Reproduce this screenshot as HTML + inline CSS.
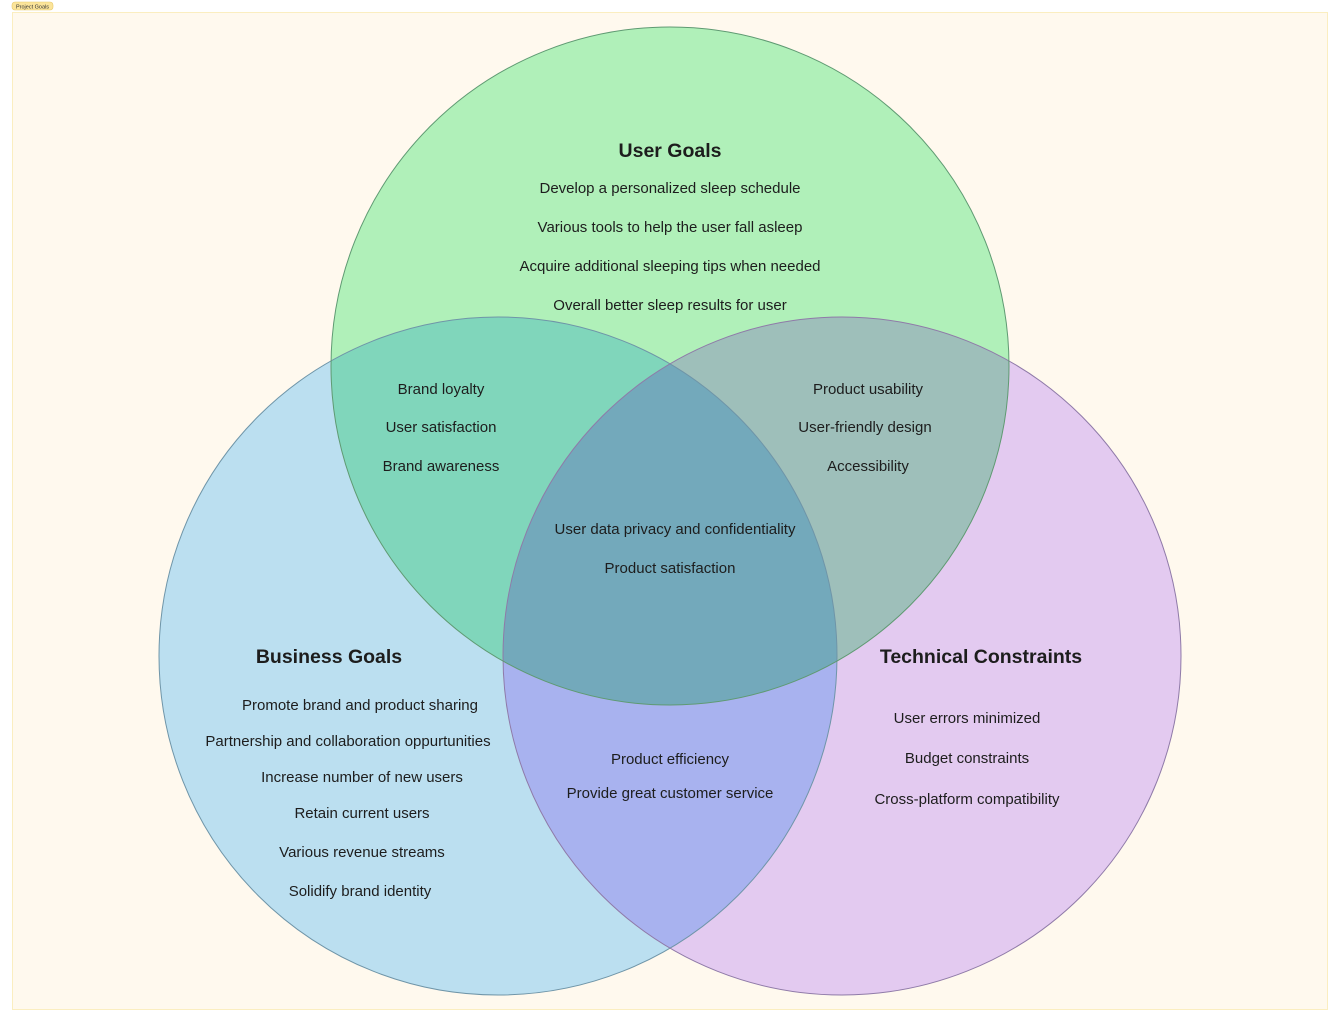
<!DOCTYPE html>
<html><head><meta charset="utf-8"><style>
html,body{margin:0;padding:0;background:#fff;}
svg{display:block;}
text{font-family:"Liberation Sans",sans-serif;}
</style></head><body>
<svg width="1341" height="1023" viewBox="0 0 1341 1023" xmlns="http://www.w3.org/2000/svg">
<defs>
<clipPath id="cG"><circle cx="670" cy="366" r="339"/></clipPath>
<clipPath id="cB"><circle cx="498" cy="656" r="339"/></clipPath>
<clipPath id="cP"><circle cx="842" cy="656" r="339"/></clipPath>
</defs>
<rect x="0" y="0" width="1341" height="1023" fill="#ffffff"/>
<rect x="12.5" y="12.5" width="1315" height="997" fill="#fff9ee" stroke="#fbeec0" stroke-width="1"/>
<rect x="12" y="2" width="41" height="8" rx="3" fill="#fbe49a" stroke="#e8c96a" stroke-width="0.6"/>
<text x="32.5" y="8.3" font-size="5.5" text-anchor="middle" fill="#333">Project Goals</text>

<circle cx="498" cy="656" r="339" fill="#bbdff0"/>
<circle cx="842" cy="656" r="339" fill="#e3caf0"/>
<circle cx="670" cy="366" r="339" fill="#b0f0b9"/>
<g clip-path="url(#cB)"><circle cx="842" cy="656" r="339" fill="#a8b2ef"/></g>
<g clip-path="url(#cG)"><circle cx="498" cy="656" r="339" fill="#80d6bb"/><circle cx="842" cy="656" r="339" fill="#9ebfba"/></g>
<g clip-path="url(#cG)"><g clip-path="url(#cB)"><circle cx="842" cy="656" r="339" fill="#73a9bb"/></g></g>
<circle cx="498" cy="656" r="339" fill="none" stroke="#6f95a8" stroke-width="1"/>
<circle cx="842" cy="656" r="339" fill="none" stroke="#8f7aa8" stroke-width="1"/>
<circle cx="670" cy="366" r="339" fill="none" stroke="#5f9a72" stroke-width="1"/>

<g font-size="15" fill="#1d1d1d" text-anchor="middle">
<text x="670" y="157" font-size="19.5" font-weight="bold">User Goals</text>
<text x="670" y="193">Develop a personalized sleep schedule</text>
<text x="670" y="232">Various tools to help the user fall asleep</text>
<text x="670" y="271">Acquire additional sleeping tips when needed</text>
<text x="670" y="310">Overall better sleep results for user</text>

<text x="441" y="394">Brand loyalty</text>
<text x="441" y="432">User satisfaction</text>
<text x="441" y="471">Brand awareness</text>

<text x="868" y="394">Product usability</text>
<text x="865" y="432">User-friendly design</text>
<text x="868" y="471">Accessibility</text>

<text x="675" y="534">User data privacy and confidentiality</text>
<text x="670" y="573">Product satisfaction</text>

<text x="329" y="663" font-size="19.5" font-weight="bold">Business Goals</text>
<text x="360" y="710">Promote brand and product sharing</text>
<text x="348" y="746">Partnership and collaboration oppurtunities</text>
<text x="362" y="782">Increase number of new users</text>
<text x="362" y="818">Retain current users</text>
<text x="362" y="857">Various revenue streams</text>
<text x="360" y="896">Solidify brand identity</text>

<text x="981" y="663" font-size="19.5" font-weight="bold">Technical Constraints</text>
<text x="967" y="723">User errors minimized</text>
<text x="967" y="763">Budget constraints</text>
<text x="967" y="804">Cross-platform compatibility</text>

<text x="670" y="764">Product efficiency</text>
<text x="670" y="798">Provide great customer service</text>
</g>
</svg>
</body></html>
